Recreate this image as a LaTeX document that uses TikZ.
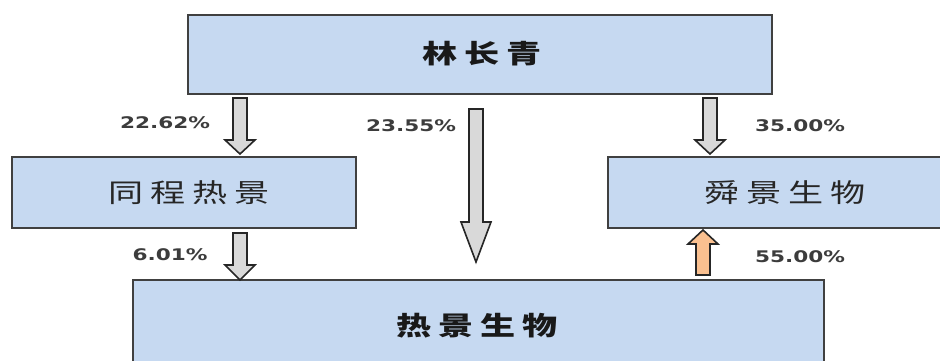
\documentclass[tikz,border=0pt]{standalone}
\usepackage{fontspec}
\newfontfamily\cjk[FakeStretch=1.35]{Noto Sans CJK SC}
\newfontfamily\numfont[FakeStretch=1.35]{DejaVu Sans}
\definecolor{boxfill}{HTML}{C6D9F1}
\definecolor{boxline}{HTML}{404040}
\definecolor{arrfill}{HTML}{D9D9D9}
\definecolor{orangefill}{HTML}{FAC090}
\definecolor{txt}{HTML}{262626}
\newcommand\gap{\kern7pt}
% downward block arrow: center x, top y, head start y, tip y, fill
\newcommand\dnarrow[5]{%
  \draw[arrline,fill=#5] (#1-7,#2) -- (#1+7,#2) -- (#1+7,#3) -- (#1+15,#3) -- (#1,#4) -- (#1-15,#3) -- (#1-7,#3) -- cycle;}
\tikzset{
  box/.style={draw=boxline,line width=1.5pt,fill=boxfill,inner sep=0pt},
  lbl/.style={font=\numfont\bfseries\fontsize{16}{18}\selectfont,text=txt!90,inner sep=0pt},
  cjkb/.style={font=\cjk\bfseries\fontsize{26}{28}\selectfont,text=black!90},
  cjkr/.style={font=\cjk\fontsize{26}{28}\selectfont,text=txt},
  arrline/.style={draw=black!85,line width=1.6pt,line join=miter}
}
\begin{document}
\begin{tikzpicture}[x=1pt,y=-1pt]
\useasboundingbox (0,0) rectangle (940,361);
\clip (0,0) rectangle (940,361);
% boxes
\node[box,minimum width=584pt,minimum height=79pt] (lin) at (480,54.5) {};
\node[cjkb] (lintext) at (482,54) {林\gap 长\gap 青};
\node[box,minimum width=344pt,minimum height=71pt] (tc) at (184,192.5) {};
\node[cjkr] (tctext) at (189,193) {同\gap 程\gap 热\gap 景};
\node[box,minimum width=354pt,minimum height=71pt] (sj) at (785,192.5) {};
\node[cjkr] (sjtext) at (785,193) {舜\gap 景\gap 生\gap 物};
\node[box,minimum width=691pt,minimum height=96pt] (rj) at (478.5,328) {};
\node[cjkb] (rjtext) at (477,326) {热\gap 景\gap 生\gap 物};
% arrows
\dnarrow{240}{98}{140}{154}{arrfill}
\dnarrow{476}{109}{222}{262}{arrfill}
\dnarrow{710}{98}{140}{154}{arrfill}
\dnarrow{240}{233}{265}{280}{arrfill}
\draw[arrline,fill=orangefill] (696,275) -- (710,275) -- (710,244) -- (718,244) -- (703,230) -- (688,244) -- (696,244) -- cycle;
% labels
\node[lbl] (l1) at (165,123) {22.62\%};
\node[lbl] (l2) at (411,126) {23.55\%};
\node[lbl] (l3) at (800,126) {35.00\%};
\node[lbl] (l4) at (170,255) {6.01\%};
\node[lbl] (l5) at (800,257) {55.00\%};
\end{tikzpicture}
\end{document}
